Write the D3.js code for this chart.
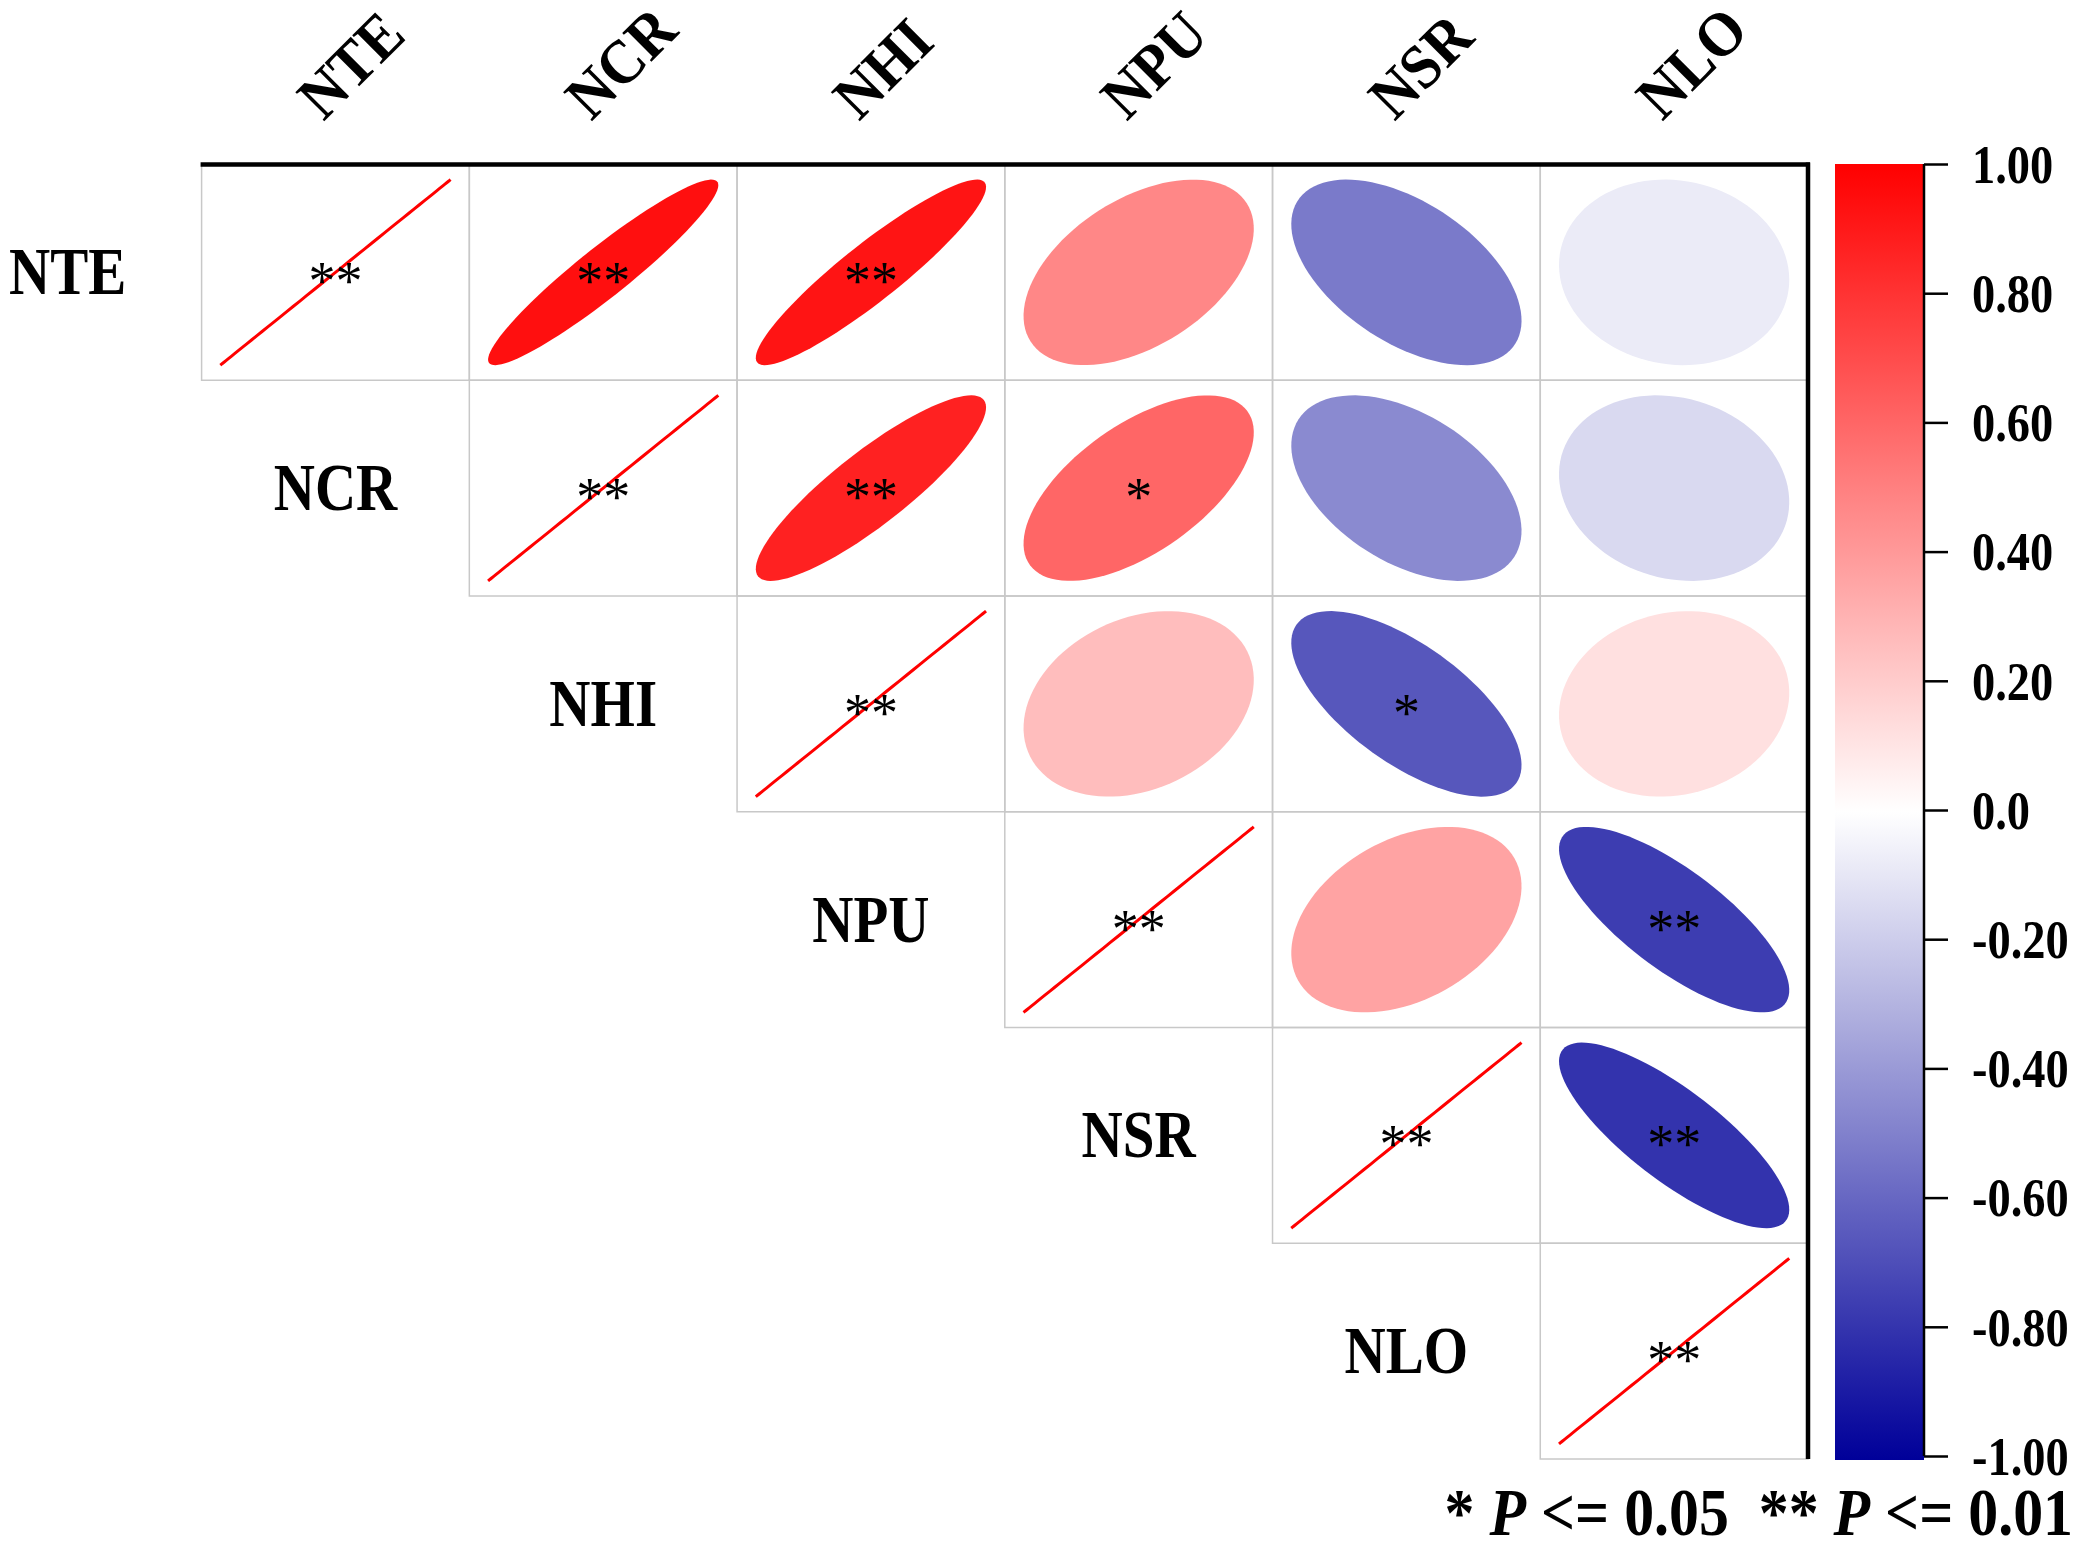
<!DOCTYPE html>
<html>
<head>
<meta charset="utf-8">
<script src="https://cdn.jsdelivr.net/npm/d3@7"></script>
<style>
  body { margin: 0; background: #fff; }
  text { font-family: "Liberation Serif", "Times New Roman", serif; }
</style>
</head>
<body>
<div id="chart"></div>
<script>
// Variables (rows and columns of the matrix)
var vars = ["NTE", "NCR", "NHI", "NPU", "NSR", "NLO"];

// Correlation coefficients, one row per variable
var rNTE = [1.00, 0.94, 0.92, 0.47, -0.52, -0.08];
var rNCR = [0.94, 1.00, 0.87, 0.60, -0.46, -0.15];
var rNHI = [0.92, 0.87, 1.00, 0.26, -0.66, 0.12];
var rNPU = [0.47, 0.60, 0.26, 1.00, 0.36, -0.76];
var rNSR = [-0.52, -0.46, -0.66, 0.36, 1.00, -0.80];
var rNLO = [-0.08, -0.15, 0.12, -0.76, -0.80, 1.00];

// Significance marks
var sNTE = ["**", "**", "**", "", "", ""];
var sNCR = ["**", "**", "**", "*", "", ""];
var sNHI = ["**", "**", "**", "", "*", ""];
var sNPU = ["", "*", "", "**", "", "**"];
var sNSR = ["", "", "*", "", "**", "**"];
var sNLO = ["", "", "", "**", "**", "**"];

// Colour bar ticks
var cbTicks = [1, 0.8, 0.6, 0.4, 0.2, 0, -0.2, -0.4, -0.6, -0.8, -1];
var cbLabels = ["1.00", "0.80", "0.60", "0.40", "0.20", "0.0", "-0.20", "-0.40", "-0.60", "-0.80", "-1.00"];

var corr = [rNTE, rNCR, rNHI, rNPU, rNSR, rNLO];
var sig = [sNTE, sNCR, sNHI, sNPU, sNSR, sNLO];

var w = 2080, h = 1543;
var gLeft = 201.6, gRight = 1808, gTop = 164.5, gBottom = 1459;

var svg = d3.select("#chart").append("svg")
    .attr("width", w)
    .attr("height", h)
    .style("background", "#fff");

// Scales
var xScale = d3.scaleBand().domain(vars).range([gLeft, gRight]);
var yScale = d3.scaleBand().domain(vars).range([gTop, gBottom]);
var bw = xScale.bandwidth(), bh = yScale.bandwidth();

var color = d3.scaleLinear()
    .domain([-1, 0, 1])
    .range(["#000099", "#ffffff", "#ff0000"]);

// Flatten upper triangle (including diagonal)
var cells = [];
vars.forEach(function (rv, i) {
    vars.forEach(function (cv, j) {
        if (j >= i) cells.push({ row: rv, col: cv, r: corr[i][j], s: sig[i][j] });
    });
});

// Cell borders
svg.append("g").selectAll("rect")
    .data(cells)
    .enter().append("rect")
    .attr("x", function (d) { return xScale(d.col); })
    .attr("y", function (d) { return yScale(d.row); })
    .attr("width", bw)
    .attr("height", bh)
    .attr("fill", "none")
    .attr("stroke", "#c8c8c8")
    .attr("stroke-width", 1.5);

// Ellipse shape (corrplot style), drawn in unit cell then scaled
var k = d3.range(0, 101).map(function (i) { return i / 100 * 2 * Math.PI; });
function ellipsePath(d) {
    var a = Math.acos(Math.max(-1, Math.min(1, d.r)));
    var sx = d3.scaleLinear().domain([-0.5, 0.5]).range([xScale(d.col), xScale(d.col) + bw]);
    var sy = d3.scaleLinear().domain([-0.5, 0.5]).range([yScale(d.row) + bh, yScale(d.row)]);
    var pts = k.map(function (t) {
        return [sx(0.86 * Math.cos(t + a / 2) / 2), sy(0.86 * Math.cos(t - a / 2) / 2)];
    });
    return d3.line()(pts);
}

svg.append("g").selectAll("path")
    .data(cells)
    .enter().append("path")
    .attr("d", ellipsePath)
    .attr("fill", function (d) { return d.r >= 0.999 ? "none" : color(d.r); })
    .attr("stroke", function (d) { return d.r >= 0.999 ? "#ff0000" : "none"; })
    .attr("stroke-width", 3);

// Significance stars
svg.append("g").selectAll("text")
    .data(cells.filter(function (d) { return d.s; }))
    .enter().append("text")
    .attr("x", function (d) { return xScale(d.col) + bw / 2; })
    .attr("y", function (d) { return yScale(d.row) + bh / 2 + 27; })
    .attr("text-anchor", "middle")
    .attr("font-size", 54)
    .attr("fill", "#000")
    .text(function (d) { return d.s; });

// Row labels, one cell left of the diagonal
svg.append("g").selectAll("text")
    .data(vars)
    .enter().append("text")
    .attr("transform", function (d) {
        return "translate(" + (xScale(d) - bw / 2) + "," + (yScale(d) + bh / 2 + 22) + ") scale(0.92,1.08)";
    })
    .attr("text-anchor", "middle")
    .attr("font-size", 62)
    .attr("font-weight", "bold")
    .text(function (d) { return d; });

// Column labels, rotated
svg.append("g").selectAll("text")
    .data(vars)
    .enter().append("text")
    .attr("transform", function (d) {
        return "translate(" + (xScale(d) + bw / 2 - 12) + ",122) rotate(-45) scale(1,1.08)";
    })
    .attr("text-anchor", "start")
    .attr("font-size", 58)
    .attr("font-weight", "bold")
    .text(function (d) { return d; });

// Frame lines (top and right)
svg.append("line")
    .attr("x1", gLeft - 1).attr("x2", gRight + 2)
    .attr("y1", gTop).attr("y2", gTop)
    .attr("stroke", "#000").attr("stroke-width", 4.5);
svg.append("line")
    .attr("x1", gRight).attr("x2", gRight)
    .attr("y1", gTop - 2).attr("y2", gBottom)
    .attr("stroke", "#000").attr("stroke-width", 4.5);

// Colour bar
var cbX = 1835, cbW = 89;
var cbScale = d3.scaleLinear().domain([-1, 1]).range([1456, 164]);

var grad = svg.append("defs").append("linearGradient")
    .attr("id", "cbGrad")
    .attr("x1", 0).attr("y1", 1).attr("x2", 0).attr("y2", 0);
grad.selectAll("stop")
    .data(d3.range(-1, 1.001, 0.1))
    .enter().append("stop")
    .attr("offset", function (d) { return (d + 1) / 2; })
    .attr("stop-color", function (d) { return color(d); });

svg.append("rect")
    .attr("x", cbX)
    .attr("y", cbScale(1))
    .attr("width", cbW)
    .attr("height", 1460 - cbScale(1))
    .attr("fill", "url(#cbGrad)");

var cbAxis = d3.axisRight(cbScale)
    .tickValues(cbTicks)
    .tickSize(24)
    .tickPadding(24)
    .tickFormat(function (d, i) { return cbLabels[i]; });

var cbG = svg.append("g")
    .attr("transform", "translate(" + (cbX + cbW) + ",0)")
    .call(cbAxis);
cbG.select(".domain").attr("stroke", "#000").attr("stroke-width", 2.5)
    .attr("d", "M0," + cbScale(1) + "V" + cbScale(-1));
cbG.selectAll(".tick line").attr("stroke", "#000").attr("stroke-width", 2.5);
cbG.selectAll(".tick text")
    .attr("font-family", "Liberation Serif, Times New Roman, serif")
    .attr("font-size", 54)
    .attr("font-weight", "bold")
    .attr("fill", "#000")
    .attr("x", 48 / 0.86)
    .attr("dy", "0.34em")
    .attr("transform", "scale(0.86,1)");

// Significance legend
var leg = svg.append("text")
    .attr("transform", "translate(2073,1535) scale(0.88,1)")
    .attr("text-anchor", "end")
    .attr("font-size", 68)
    .attr("font-weight", "bold")
    .attr("xml:space", "preserve");
leg.append("tspan").text("* ");
leg.append("tspan").attr("font-style", "italic").text("P");
leg.append("tspan").text(" <= 0.05  ** ");
leg.append("tspan").attr("font-style", "italic").text("P");
leg.append("tspan").text(" <= 0.01");
</script>
</body>
</html>
